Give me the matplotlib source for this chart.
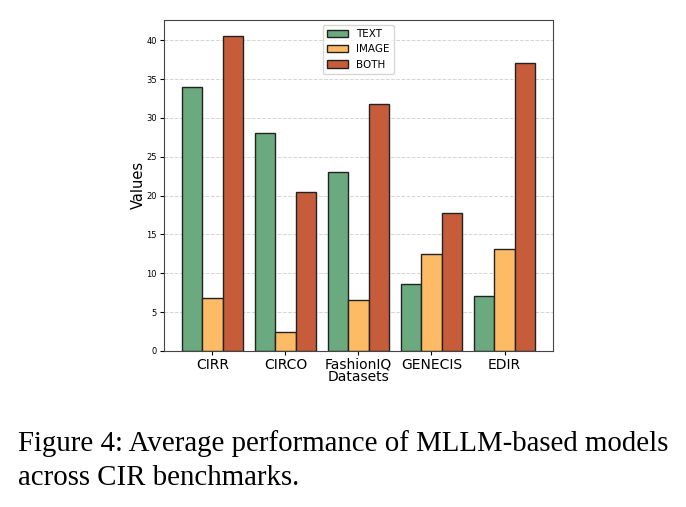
import numpy as np
import matplotlib
matplotlib.use("Agg")
import matplotlib.pyplot as plt

datasets = ["CIRR", "CIRCO", "FashionIQ", "GENECIS", "EDIR"]
text_vals = [34.0, 28.0, 23.0, 8.6, 7.0]
image_vals = [6.8, 2.4, 6.6, 12.5, 13.1]
both_vals = [40.6, 20.5, 31.8, 17.8, 37.1]

fig = plt.figure(figsize=(6.86, 5.07), dpi=100)
ax = fig.add_axes([0.239, 0.308, 0.567, 0.653])

x = np.arange(len(datasets))
w = 0.28
ax.bar(x - w, text_vals, w, label="TEXT", color="#6aaa7e", edgecolor="#222222", linewidth=1)
ax.bar(x, image_vals, w, label="IMAGE", color="#fdbb66", edgecolor="#222222", linewidth=1)
ax.bar(x + w, both_vals, w, label="BOTH", color="#c75c3b", edgecolor="#222222", linewidth=1)

ax.set_xticks(x)
ax.set_xticklabels(datasets, fontsize=10)
ax.tick_params(axis="x", pad=2, length=3)
ax.tick_params(axis="y", labelsize=6, length=3, pad=2)
ax.set_yticks(np.arange(0, 45, 5))
ax.set_xlabel("Datasets", fontsize=10, labelpad=-1)
ax.set_ylabel("Values", fontsize=10.5, labelpad=0)
ax.yaxis.grid(True, linestyle="--", color="#d5d5d5", linewidth=0.7)
ax.set_axisbelow(True)
for s in ax.spines.values():
    s.set_color("#444444")
ax.legend(loc="upper center", fontsize=7.5)

fig.text(0.026, 0.152, "Figure 4: Average performance of MLLM-based models\nacross CIR benchmarks.",
         family="Liberation Serif", fontsize=20.75, linespacing=1.42, va="top", ha="left")

plt.savefig("out.png", dpi=100)
